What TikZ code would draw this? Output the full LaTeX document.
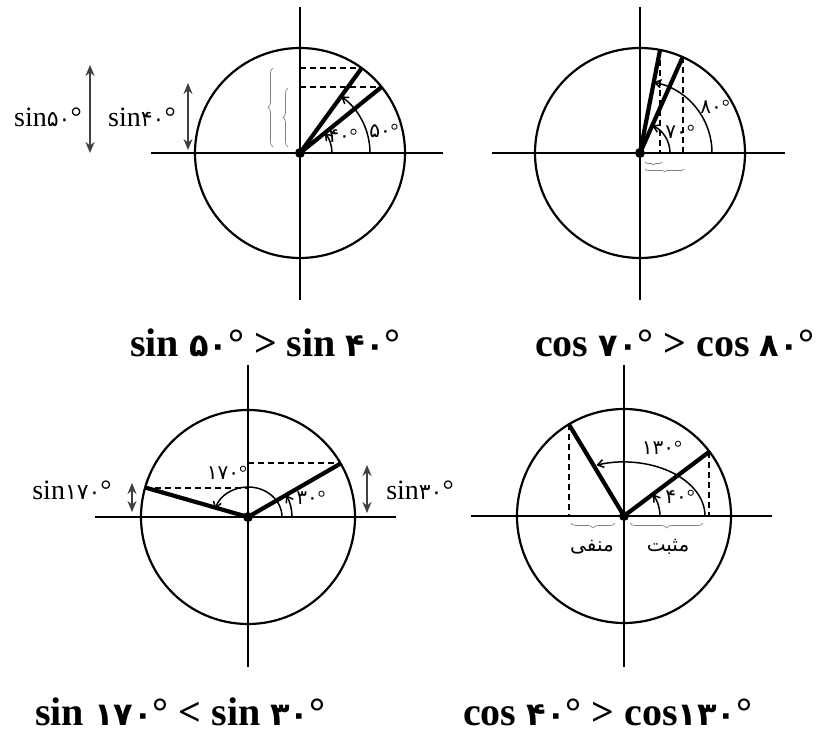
\documentclass[tikz,border=0pt]{standalone}
\usepackage{fontspec}
\setmainfont{Liberation Serif}
\newfontfamily\fanum{DejaVu Sans}
\newfontfamily\farsi[Script=Arabic]{DejaVu Sans}
\TeXXeTstate=1
\usetikzlibrary{arrows.meta,decorations.pathreplacing}
\newcommand\capnum[1]{{\fanum\fontsize{32}{34}\selectfont\bfseries #1}}
\newcommand\lblnum[1]{{\fanum\fontsize{22}{24}\selectfont #1}}

\tikzset{
  axisline/.style={line width=2.6pt},
  ring/.style={line width=2.2pt},
  ray/.style={line width=4.2pt},
  guide/.style={line width=2pt, dash pattern=on 6pt off 4pt},
  arcarrow/.style={-{Straight Barb[length=6pt, width=8pt]}, line width=1.5pt},
  sinarrow/.style={{Stealth[length=11pt, width=9pt]}-{Stealth[length=11pt, width=9pt]}, line width=2pt, draw=black!75},
  curly/.style={decorate, decoration={brace, amplitude=5pt}, line width=0.7pt, draw=black!50},
  dot/.style={circle, fill, inner sep=0pt, minimum size=10pt},
  caption/.style={anchor=base west, inner sep=0pt, font=\fontsize{40}{44}\selectfont\bfseries},
  anglelbl/.style={inner sep=0pt, font=\fontsize{20}{22}\selectfont},
  sinlbl/.style={inner sep=0pt, font=\fontsize{28}{30}\selectfont},
  wordlbl/.style={inner sep=0pt, font=\fontsize{20}{22}\selectfont}
}

\begin{document}
\begin{tikzpicture}[x=1pt, y=1pt]
\useasboundingbox (0,0) rectangle (824,736);

% sin 50 > sin 40
\begin{scope}[shift={(300,583)}]
\draw[ring] (0,0) circle (105);
\draw[axisline] (-149,0) -- (143,0);
\draw[axisline] (0,146) -- (0,-147);
\node[dot] (o1) at (0,0) {};
\coordinate (p50) at (54:105);
\coordinate (p40) at (39:105);
\draw[guide] (o1.center |- p50) -- (p50);
\draw[guide] (o1.center |- p40) -- (p40);
\draw[ray] (o1.center) -- (p50);
\draw[ray] (o1.center) -- (p40);
\draw[arcarrow] (32,0) arc[start angle=0, end angle=39, radius=32];
\draw[arcarrow] (70,0) arc[start angle=0, end angle=54, radius=70];
\node[anglelbl] (t40) at (43,17) {{\fanum ۴۰}°};
\node[anglelbl] (t50) at (84,22) {{\fanum ۵۰}°};
\draw[curly] (-27,6) -- (-27,85);
\draw[curly] (-12,6) -- (-12,65);
\coordinate (h50a) at (-210,0);
\coordinate (h50b) at (-210,88);
\coordinate (h40a) at (-112,3);
\coordinate (h40b) at (-112,70);
\draw[sinarrow] (h50a) -- (h50b);
\draw[sinarrow] (h40a) -- (h40b);
\node[sinlbl] (l50) at (-252,36) {sin\lblnum{۵۰}°};
\node[sinlbl] (l40) at (-158,36) {sin\lblnum{۴۰}°};
\end{scope}

% cos 70 > cos 80
\begin{scope}[shift={(640,583)}]
\draw[ring] (0,0) circle (105);
\draw[axisline] (-148,0) -- (145,0);
\draw[axisline] (0,146) -- (0,-147);
\node[dot] (o2) at (0,0) {};
\coordinate (q80) at (79:105);
\coordinate (q70) at (66:105);
\draw[guide] (q80) -- (q80 |- o2.center);
\draw[guide] (q70) -- (q70 |- o2.center);
\draw[ray] (o2.center) -- (q80);
\draw[ray] (o2.center) -- (q70);
\draw[arcarrow] (30,0) arc[start angle=0, end angle=66, radius=30];
\draw[arcarrow] (72,0) arc[start angle=0, end angle=79, radius=72];
\node[anglelbl] (t70) at (40,21) {{\fanum ۷۰}°};
\node[anglelbl] (t80) at (75,46) {{\fanum ۸۰}°};
\draw[curly, decoration={amplitude=3pt}] (22,-9) -- (5,-9);
\draw[curly, decoration={amplitude=3pt}] (44,-16) -- (5,-16);
\end{scope}

% sin 170 < sin 30
\begin{scope}[shift={(248,219)}]
\draw[ring] (0,0) circle (107);
\draw[axisline] (-153,0) -- (148,0);
\draw[axisline] (0,152) -- (0,-150);
\node[dot] (o3) at (0,0) {};
\coordinate (u30) at (30:107);
\coordinate (u170) at (164:107);
\draw[guide] (u170) -- (o3.center |- u170);
\draw[guide] (o3.center |- u30) -- (u30);
\draw[ray] (o3.center) -- (u30);
\draw[ray] (o3.center) -- (u170);
\draw[arcarrow] (44,0) arc[start angle=0, end angle=30, radius=44];
\draw[arcarrow] (34,0) arc[start angle=0, end angle=165, x radius=34, y radius=30];
\node[anglelbl] (t30) at (63,19) {{\fanum ۳۰}°};
\node[anglelbl] (t170) at (-21,44) {{\fanum ۱۷۰}°};
\coordinate (h30a) at (119,4);
\coordinate (h30b) at (119,52);
\coordinate (h170a) at (-116,5);
\coordinate (h170b) at (-116,34);
\draw[sinarrow] (h30a) -- (h30b);
\draw[sinarrow] (h170a) -- (h170b);
\node[sinlbl] (l30) at (172,27) {sin\lblnum{۳۰}°};
\node[sinlbl] (l170) at (-176,27) {sin\lblnum{۱۷۰}°};
\end{scope}

% cos 40 > cos 130
\begin{scope}[shift={(624,220)}]
\draw[ring] (0,0) circle (107);
\draw[axisline] (-153,0) -- (148,0);
\draw[axisline] (0,151) -- (0,-151);
\node[dot] (o4) at (0,0) {};
\coordinate (v40) at (37:107);
\coordinate (v130) at (121:107);
\draw[guide] (v40) -- (v40 |- o4.center);
\draw[guide] (v130) -- (v130 |- o4.center);
\draw[ray] (o4.center) -- (v40);
\draw[ray] (o4.center) -- (v130);
\draw[arcarrow] (36,0) arc[start angle=0, end angle=37, radius=36];
\draw[arcarrow] (81,0) arc[start angle=0, end angle=110, x radius=81, y radius=54];
\node[anglelbl] (t130) at (38,68) {{\fanum ۱۳۰}°};
\node[anglelbl] (t40b) at (56,19) {{\fanum ۴۰}°};
\draw[curly] (-9,-7) -- (-53,-7);
\draw[curly] (79,-7) -- (6,-7);
\node[wordlbl] (neg) at (-32,-31) {\farsi\beginR منفی\endR};
\node[wordlbl] (pos) at (44,-31) {\farsi\beginR مثبت\endR};
\end{scope}

% captions
\node[caption] (cap1) at (130,379) {sin \capnum{۵۰}° > sin \capnum{۴۰}°};
\node[caption] (cap2) at (535,379) {cos \capnum{۷۰}° > cos \capnum{۸۰}°};
\node[caption] (cap3) at (35,11) {sin \capnum{۱۷۰}° < sin \capnum{۳۰}°};
\node[caption] (cap4) at (463,11) {cos \capnum{۴۰}° > cos\capnum{۱۳۰}°};
\end{tikzpicture}
\end{document}
